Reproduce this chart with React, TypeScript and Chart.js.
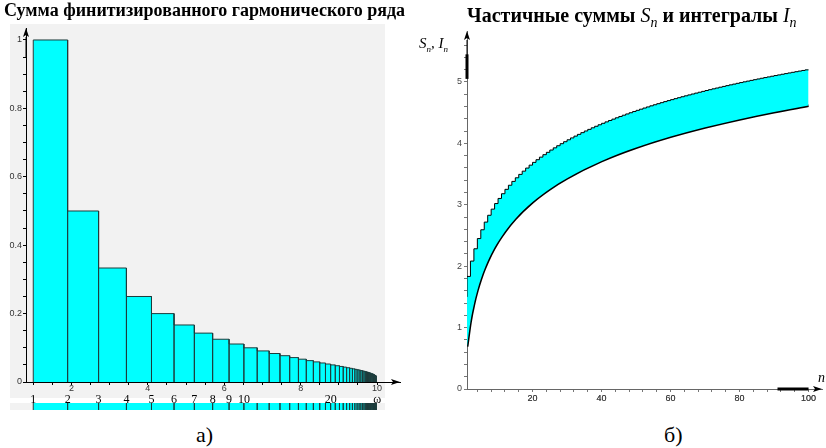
import React, { useEffect, useRef } from "react";
import { Chart, registerables } from "chart.js";

Chart.register(...registerables);

// ---------- Left chart (a): finitized harmonic series ----------
// bar heights 1/n, n = 1..60
const barHeights = [
  1, 0.5, 0.3333, 0.25, 0.2, 0.1667, 0.1429, 0.125, 0.1111, 0.1,
  0.0909, 0.0833, 0.0769, 0.0714, 0.0667, 0.0625, 0.0588, 0.0556, 0.0526, 0.05,
  0.0476, 0.0455, 0.0435, 0.0417, 0.04, 0.0385, 0.037, 0.0357, 0.0345, 0.0333,
  0.0323, 0.0313, 0.0303, 0.0294, 0.0286, 0.0278, 0.027, 0.0263, 0.0256, 0.025,
  0.0244, 0.0238, 0.0233, 0.0227, 0.0222, 0.0217, 0.0213, 0.0208, 0.0204, 0.02,
  0.0196, 0.0192, 0.0189, 0.0185, 0.0182, 0.0179, 0.0175, 0.0172, 0.0169, 0.0167,
];
// bar edges on the finitized axis (bar n spans barEdges[n-1]..barEdges[n])
const barEdges = [
  1, 1.9, 2.71, 3.439, 4.0951, 4.6856, 5.217, 5.6953, 6.1258, 6.5132,
  6.8619, 7.1757, 7.4581, 7.7123, 7.9411, 8.147, 8.3323, 8.4991, 8.6491, 8.7842,
  8.9058, 9.0152, 9.1137, 9.2023, 9.2821, 9.3539, 9.4185, 9.4767, 9.529, 9.5761,
  9.6185, 9.6566, 9.691, 9.7219, 9.7497, 9.7747, 9.7972, 9.8175, 9.8358, 9.8522,
  9.867, 9.8803, 9.8922, 9.903, 9.9127, 9.9214, 9.9293, 9.9364, 9.9427, 9.9485,
  9.9536, 9.9583, 9.9624, 9.9662, 9.9696, 9.9726, 9.9754, 9.9778, 9.98, 9.982,
  9.9838,
];
const limitEdge = 10;
const leftXLabels = [2, 4, 6, 8, 10];
const leftYLabels = [0, 0.2, 0.4, 0.6, 0.8, 1];
const stripLabelN = [1, 2, 3, 4, 5, 6, 7, 8, 9, 10, 20];
const stripLabels = ["1", "2", "3", "4", "5", "6", "7", "8", "9", "10", "20", "ω"];

// ---------- Right chart (б): partial sums and integrals ----------
const stepN = Array.from({ length: 100 }, (_, i) => i + 1);
const partialSums = [
  1.5, 1.8333, 2.0833, 2.2833, 2.45, 2.5929, 2.7179, 2.829, 2.929, 3.0199,
  3.1032, 3.1801, 3.2516, 3.3182, 3.3807, 3.4395, 3.4951, 3.5477, 3.5977, 3.6454,
  3.6908, 3.7343, 3.776, 3.816, 3.8544, 3.8915, 3.9272, 3.9617, 3.995, 4.0272,
  4.0585, 4.0888, 4.1182, 4.1468, 4.1746, 4.2016, 4.2279, 4.2535, 4.2785, 4.3029,
  4.3267, 4.35, 4.3727, 4.3949, 4.4167, 4.438, 4.4588, 4.4792, 4.4992, 4.5188,
  4.538, 4.5569, 4.5754, 4.5936, 4.6115, 4.629, 4.6463, 4.6632, 4.6799, 4.6963,
  4.7124, 4.7283, 4.7439, 4.7593, 4.7744, 4.7894, 4.8041, 4.8186, 4.8329, 4.847,
  4.8609, 4.8746, 4.8881, 4.9014, 4.9146, 4.9276, 4.9404, 4.9531, 4.9655, 4.9779,
  4.9901, 5.0021, 5.014, 5.0258, 5.0374, 5.0489, 5.0603, 5.0715, 5.0826, 5.0936,
  5.1044, 5.1152, 5.1258, 5.1363, 5.1468, 5.1571, 5.1673, 5.1774, 5.1874, 5.1973,
];
const integralN = [1, 2, 3, 4, 5, 6, 8, 10, 12, 15, 20, 25, 30, 40, 50, 60, 70, 80, 90, 100];
const integralValues = [
  0.693, 1.099, 1.386, 1.609, 1.792, 1.946, 2.197, 2.398, 2.565, 2.773,
  3.045, 3.258, 3.434, 3.714, 3.932, 4.111, 4.263, 4.394, 4.511, 4.615,
];
const rightXLabels = [20, 40, 60, 80, 100];
const rightYLabels = [0, 1, 2, 3, 4, 5];
const yAxisThick = [5.05, 5.45];
const xAxisThick = [91, 100];

const CYAN = "#00ffff";
const BAR_LINE = "#1e3c3c";
const GREY_BG = "#f2f2f2";
const TICK_FONT = { family: "'Liberation Sans', Arial, sans-serif", size: 9 };

const arrowPlugin = {
  id: "axisArrows",
  afterDraw(chart: any, _args: any, opts: any) {
    if (!opts || !opts.enabled) return;
    const { ctx, chartArea: a } = chart;
    const L = opts.length ?? 9;
    const W = opts.half ?? 3;
    ctx.save();
    ctx.fillStyle = "#000";
    ctx.strokeStyle = "#000";
    ctx.lineWidth = 1;
    ctx.beginPath();
    ctx.moveTo(a.right, a.bottom);
    ctx.lineTo(a.right - L, a.bottom - W);
    ctx.lineTo(a.right - L + 2, a.bottom);
    ctx.lineTo(a.right - L, a.bottom + W);
    ctx.closePath();
    ctx.fill();
    ctx.beginPath();
    ctx.moveTo(a.left, a.top);
    ctx.lineTo(a.left - W, a.top + L);
    ctx.lineTo(a.left, a.top + L - 2);
    ctx.lineTo(a.left + W, a.top + L);
    ctx.closePath();
    ctx.fill();
    ctx.beginPath();
    ctx.moveTo(a.left, a.top + L);
    ctx.lineTo(a.left, a.top + 30);
    ctx.stroke();
    ctx.restore();
  },
};
Chart.register(arrowPlugin);

function barOutline(heights: number[]) {
  const pts: { x: number; y: number }[] = [{ x: barEdges[0], y: 0 }];
  for (let i = 0; i < heights.length; i++) {
    pts.push({ x: barEdges[i], y: heights[i] });
    pts.push({ x: barEdges[i + 1], y: heights[i] });
    pts.push({ x: barEdges[i + 1], y: 0 });
  }
  pts.push({ x: limitEdge, y: 0 });
  return pts;
}

function fmt(v: number) {
  return String(Number(v.toFixed(2)));
}

function hasValue(list: number[], v: number) {
  return list.some((t) => Math.abs(t - v) < 1e-6);
}

function range(a: number, b: number, step: number) {
  const out: number[] = [];
  for (let v = a; v <= b + 1e-9; v += step) out.push(Number(v.toFixed(4)));
  return out;
}

function ChartCanvas({ make, style }: { make: () => any; style: React.CSSProperties }) {
  const ref = useRef<HTMLCanvasElement | null>(null);
  useEffect(() => {
    if (!ref.current) return;
    const chart = new Chart(ref.current, make());
    return () => chart.destroy();
  }, []);
  return (
    <canvas
      ref={ref}
      width={style.width as number}
      height={style.height as number}
      style={{ position: "absolute", ...style }}
    />
  );
}

function leftConfig() {
  return {
    type: "line",
    data: {
      datasets: [
        {
          data: barOutline(barHeights),
          borderColor: BAR_LINE,
          borderWidth: 1,
          backgroundColor: CYAN,
          fill: "origin",
          pointRadius: 0,
          tension: 0,
        },
      ],
    },
    options: {
      animation: false,
      responsive: false,
      events: [],
      layout: { padding: { top: 28, right: 10, left: 0, bottom: 0 } },
      plugins: { legend: { display: false }, tooltip: { enabled: false }, axisArrows: { enabled: true, length: 9, half: 3 } },
      scales: {
        x: {
          type: "linear",
          min: 0.81,
          max: 10.6,
          afterFit: (s: any) => { s.height = 18; },
          afterBuildTicks: (s: any) => { s.ticks = range(1, 10, 0.5).map((v) => ({ value: v })); },
          ticks: {
            autoSkip: false,
            maxRotation: 0,
            padding: -2,
            color: "#333",
            font: TICK_FONT,
            callback: (v: number) => (hasValue(leftXLabels, v) ? fmt(v) : ""),
          },
          grid: { drawOnChartArea: false, tickLength: 3, color: "#000" },
          border: { color: "#000", width: 1 },
        },
        y: {
          min: 0,
          max: 1.035,
          afterFit: (s: any) => { s.width = 26; },
          afterBuildTicks: (s: any) => { s.ticks = range(0, 1, 0.05).map((v) => ({ value: v })); },
          ticks: {
            autoSkip: false,
            padding: 1,
            color: "#333",
            font: TICK_FONT,
            callback: (v: number) => (hasValue(leftYLabels, v) ? fmt(v) : ""),
          },
          grid: { drawOnChartArea: false, tickLength: 3, color: "#000" },
          border: { color: "#000", width: 1 },
        },
      },
    },
  };
}

function stripConfig() {
  const positions = [...stripLabelN.map((n) => barEdges[n - 1]), limitEdge];
  return {
    type: "line",
    data: {
      datasets: [
        {
          data: barOutline(barHeights.map(() => 1)),
          borderColor: BAR_LINE,
          borderWidth: 1,
          backgroundColor: CYAN,
          fill: "origin",
          pointRadius: 0,
          tension: 0,
        },
      ],
    },
    options: {
      animation: false,
      responsive: false,
      events: [],
      layout: { padding: { top: 0, right: 10, left: 26, bottom: 0 } },
      plugins: { legend: { display: false }, tooltip: { enabled: false }, axisArrows: { enabled: false } },
      scales: {
        x: {
          type: "linear",
          position: "top",
          min: 0.81,
          max: 10.6,
          afterFit: (s: any) => { s.height = 13; },
          afterBuildTicks: (s: any) => { s.ticks = positions.map((v) => ({ value: v })); },
          ticks: {
            autoSkip: false,
            maxRotation: 0,
            padding: -4,
            color: "#000",
            font: { family: "'Liberation Serif', 'Times New Roman', serif", size: 12 },
            callback: (_v: number, i: number) => stripLabels[i],
          },
          grid: { display: false, drawTicks: false },
          border: { display: false },
        },
        y: { display: false, min: 0.2, max: 0.9 },
      },
    },
  };
}

function rightConfig() {
  return {
    type: "line",
    data: {
      datasets: [
        {
          data: stepN.map((n, i) => ({ x: n, y: partialSums[i] })),
          stepped: "after",
          borderColor: "#000",
          borderWidth: 1,
          backgroundColor: CYAN,
          fill: "+1",
          pointRadius: 0,
        },
        {
          data: integralN.map((n, i) => ({ x: n, y: integralValues[i] })),
          borderColor: "#000",
          borderWidth: 3,
          cubicInterpolationMode: "monotone",
          fill: false,
          pointRadius: 0,
        },
        {
          data: yAxisThick.map((y) => ({ x: 1, y })),
          borderColor: "#000",
          borderWidth: 3,
          fill: false,
          pointRadius: 0,
          clip: false,
        },
        {
          data: xAxisThick.map((x) => ({ x, y: 0 })),
          borderColor: "#000",
          borderWidth: 3,
          fill: false,
          pointRadius: 0,
          clip: false,
        },
      ],
    },
    options: {
      animation: false,
      responsive: false,
      events: [],
      layout: { padding: { top: 31, right: 4, left: 0, bottom: 0 } },
      plugins: { legend: { display: false }, tooltip: { enabled: false }, axisArrows: { enabled: true, length: 9, half: 3 } },
      scales: {
        x: {
          type: "linear",
          min: 1,
          max: 103.9,
          afterFit: (s: any) => { s.height = 21; },
          afterBuildTicks: (s: any) => { s.ticks = range(4, 100, 4).concat(rightXLabels).map((v) => ({ value: v })); },
          ticks: {
            autoSkip: false,
            maxRotation: 0,
            padding: 1,
            color: "#444",
            font: TICK_FONT,
            callback: (v: number) => (hasValue(rightXLabels, v) ? fmt(v) : ""),
          },
          grid: { drawOnChartArea: false, tickLength: 3, color: "#777" },
          border: { color: "#666", width: 1 },
        },
        y: {
          min: 0,
          max: 5.83,
          afterFit: (s: any) => { s.width = 57; },
          afterBuildTicks: (s: any) => { s.ticks = range(0, 5.6, 0.2).map((v) => ({ value: v })); },
          ticks: {
            autoSkip: false,
            padding: 2,
            color: "#444",
            font: TICK_FONT,
            callback: (v: number) => (hasValue(rightYLabels, v) ? fmt(v) : ""),
          },
          grid: { drawOnChartArea: false, tickLength: 3, color: "#777" },
          border: { color: "#666", width: 1 },
        },
      },
    },
  };
}

const serif = "'Liberation Serif', 'Times New Roman', serif";

export default function App() {
  const text = (s: React.CSSProperties): React.CSSProperties => ({
    position: "absolute",
    whiteSpace: "nowrap",
    lineHeight: 1,
    fontFamily: serif,
    color: "#000",
    ...s,
  });
  return (
    <div style={{ position: "absolute", left: 0, top: 0, width: 826, height: 448, background: "#fff", overflow: "hidden" }}>
      <div style={{ position: "absolute", left: 10, top: 24, width: 375, height: 374, background: GREY_BG }} />
      <div style={{ position: "absolute", left: 10, top: 403, width: 375, height: 7, background: GREY_BG }} />
      <ChartCanvas make={leftConfig} style={{ left: 0, top: 0, width: 410, height: 400 }} />
      <ChartCanvas make={stripConfig} style={{ left: 0, top: 390, width: 410, height: 20 }} />
      <ChartCanvas make={rightConfig} style={{ left: 410, top: 0, width: 416, height: 410 }} />

      <div style={text({ left: 4, top: 1, fontSize: 18, fontWeight: "bold" })}>
        Сумма финитизированного гармонического ряда
      </div>
      <div style={text({ left: 467, top: 5, fontSize: 20, fontWeight: "bold" })}>
        Частичные суммы <i style={{ fontWeight: "normal" }}>S<sub style={{ fontSize: "0.7em" }}>n</sub></i> и интегралы{" "}
        <i style={{ fontWeight: "normal" }}>I<sub style={{ fontSize: "0.7em" }}>n</sub></i>
      </div>
      <div style={text({ left: 419, top: 36, fontSize: 15, fontStyle: "italic" })}>
        S<sub style={{ fontSize: "0.6em" }}>n</sub>, I<sub style={{ fontSize: "0.6em" }}>n</sub>
      </div>
      <div style={text({ left: 818, top: 371, fontSize: 14, fontStyle: "italic" })}>n</div>
      <div style={text({ left: 196, top: 424, fontSize: 22 })}>а)</div>
      <div style={text({ left: 664, top: 424, fontSize: 22 })}>б)</div>
    </div>
  );
}
